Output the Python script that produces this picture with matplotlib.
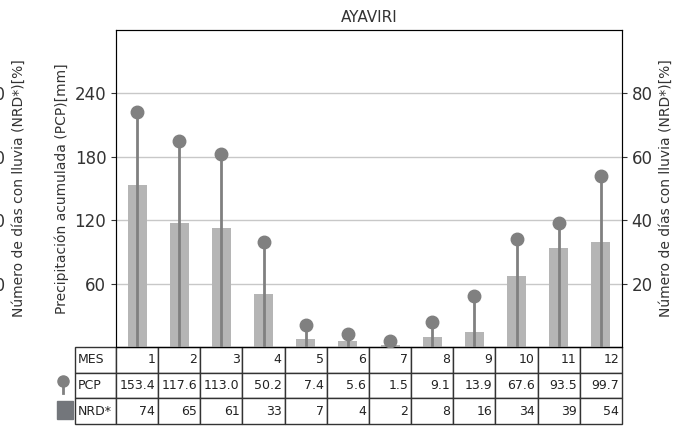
import numpy as np
import matplotlib
matplotlib.use("Agg")
import matplotlib.pyplot as plt
from matplotlib.lines import Line2D
from matplotlib.patches import Rectangle

meses = [1, 2, 3, 4, 5, 6, 7, 8, 9, 10, 11, 12]
pcp = [153.4, 117.6, 113.0, 50.2, 7.4, 5.6, 1.5, 9.1, 13.9, 67.6, 93.5, 99.7]
nrd = [74, 65, 61, 33, 7, 4, 2, 8, 16, 34, 39, 54]
pcp_labels = ["153.4", "117.6", "113.0", "50.2", "7.4", "5.6", "1.5", "9.1", "13.9", "67.6", "93.5", "99.7"]

W, H = 684, 433
txt = "#333333"
fig = plt.figure(figsize=(W / 100, H / 100), dpi=100)
# axes box in pixels: x 116..622, y 30..347
ax = fig.add_axes([116 / W, 1 - 347 / H, 506 / W, 317 / H])
x = np.arange(len(meses))
ax.bar(x, pcp, width=0.45, color="#b5b5b5", zorder=2)
ax.set_xlim(-0.5, 11.5)
ax.set_ylim(0, 300)
ax.set_yticks([60, 120, 180, 240])
ax.set_xticks([])
ax.grid(axis="y", color="#c8c8c8", lw=1, zorder=0)
ax.set_axisbelow(True)
ax.tick_params(axis="y", labelsize=12, colors=txt)
ax.set_ylabel("Precipitación acumulada (PCP)[mm]", fontsize=10, color=txt)
ax.set_title("AYAVIRI", fontsize=11, color=txt)
for s in ax.spines.values():
    s.set_color(txt)

ax2 = ax.twinx()
ax2.set_ylim(0, 100)
ax2.vlines(x, 0, nrd, color="#808080", lw=2, zorder=3)
ax2.plot(x, nrd, "o", color="#808080", ms=9, zorder=4)
ax2.set_yticks([20, 40, 60, 80])
ax2.tick_params(axis="y", labelsize=12, colors=txt)
ax2.set_ylabel("Número de días con lluvia (NRD*)[%]", fontsize=10, color=txt)

# right axis of the neighbouring panel, cut by the figure edge
axn = fig.add_axes([(-25 - 506) / W, 1 - 347 / H, 506 / W, 317 / H])
axn.set_ylim(0, 100)
axn.set_yticks([20, 40, 60, 80])
axn.yaxis.tick_right()
axn.yaxis.set_label_position("right")
axn.set_xticks([])
axn.patch.set_visible(False)
for s in axn.spines.values():
    s.set_visible(False)
axn.tick_params(axis="y", labelsize=12, colors=txt)
axn.set_ylabel("Número de días con lluvia (NRD*)[%]", fontsize=10, color=txt)

# table
rows = [["MES"] + [str(m) for m in meses],
        ["PCP"] + pcp_labels,
        ["NRD*"] + [str(v) for v in nrd]]
tbl = ax.table(cellText=rows, loc="bottom",
               bbox=[-41 / 506, -77 / 317, 547 / 506, 77 / 317])
tbl.auto_set_font_size(False)
tbl.set_fontsize(9)
for (r, c), cell in tbl.get_celld().items():
    cell.set_edgecolor(txt)
    cell.set_linewidth(1)
    cell.set_width(41 if c == 0 else 42.17)
    cell.get_text().set_color("#222222")
    cell.get_text().set_ha("left" if c == 0 else "right")
    cell.PAD = 0.07

# legend markers next to the table
tf = fig.transFigure
fig.add_artist(Line2D([63 / W, 63 / W], [1 - 381 / H, 1 - 393 / H], color="#808080", lw=2, transform=tf))
fig.add_artist(Line2D([63 / W], [1 - 381 / H], marker="o", ms=8, color="#808080", transform=tf))
fig.add_artist(Rectangle((57 / W, 1 - 419 / H), 16 / W, 18 / H, color="#73767b", transform=tf))

fig.savefig("out.png", dpi=100)
